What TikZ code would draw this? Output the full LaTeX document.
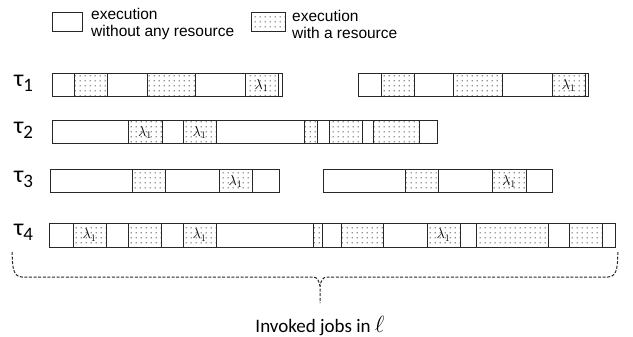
\documentclass[tikz,border=0pt]{standalone}
\usepackage{fontspec}
\setmainfont{Carlito}
\newfontfamily\legendfont{Liberation Sans}
\usetikzlibrary{patterns, positioning}
\definecolor{edgegray}{RGB}{40, 40, 40}
\definecolor{dotgray}{RGB}{30, 30, 30}
\pgfdeclarepatternformonly{sdots}{\pgfpointorigin}{\pgfpoint{4.6pt}{4.6pt}}{\pgfpoint{4.6pt}{4.6pt}}%
  {\pgfpathcircle{\pgfpoint{2.3pt}{2.3pt}}{0.65pt}\pgfusepath{fill}}
\newcommand{\tsk}[1]{{\fontsize{24}{24}\selectfont τ}\raisebox{-5pt}{\fontsize{19}{19}\selectfont #1}}

\begin{document}
\begin{tikzpicture}[
    x=1pt, y=-1pt,
    free/.style={rectangle, draw=edgegray, line width=1pt, inner sep=0pt,
                 minimum height=23pt, node contents={}},
    res/.style={free, pattern=sdots, pattern color=dotgray},
    lam/.style={res, font=\fontsize{14}{14}\selectfont, node contents={$\lambda_1$}},
    task/.style={anchor=west, inner sep=0pt},
    legend/.style={anchor=west, align=left, inner sep=0pt,
                   font=\legendfont\fontsize{15.5}{17}\selectfont},
    brace/.style={dashed, dash pattern=on 3pt off 1.6pt, line width=1pt, edgegray}
]
    \useasboundingbox (0,0) rectangle (633,337);

    % legend
    \node (keyfree) at (67,22.5) [free, minimum width=30pt, minimum height=19pt];
    \node[legend] (keyfreetxt) at (91,24) {execution\\without any resource};
    \node (keyres) at (268,22.5) [res, minimum width=34pt, minimum height=19pt];
    \node[legend] (keyrestxt) at (292,24) {execution\\with a resource};

    % task labels
    \node[task] (t1) at (14,83) {\tsk{1}};
    \node[task] (t2) at (14,130) {\tsk{2}};
    \node[task] (t3) at (14,179) {\tsk{3}};
    \node[task] (t4) at (14,232) {\tsk{4}};

    % tau 1
    \foreach \a/\b/\k [count=\i] in {52/74/free, 74/107/res, 107/147/free, 147/195/res,
        195/245/free, 245/278/lam, 278/282/free}
        \node (ra\i) at ({(\a+\b)/2},85.5) [\k, minimum width=\b-\a];
    \foreach \a/\b/\k [count=\i] in {358/381/free, 381/414/res, 414/453/free, 453/502/res,
        502/552/free, 552/585/lam, 585/588/free}
        \node (rb\i) at ({(\a+\b)/2},85.5) [\k, minimum width=\b-\a];

    % tau 2
    \foreach \a/\b/\k [count=\i] in {52/128/free, 128/162/lam, 162/183/free, 183/216/lam,
        216/304/free, 304/317/res, 317/329/free, 329/362/res, 362/373/free,
        373/419/res, 419/437/free}
        \node (sa\i) at ({(\a+\b)/2},132.5) [\k, minimum width=\b-\a];

    % tau 3
    \foreach \a/\b/\k [count=\i] in {50/132/free, 132/165/res, 165/219/free, 219/252/lam,
        252/279/free}
        \node (ta\i) at ({(\a+\b)/2},181.5) [\k, minimum width=\b-\a];
    \foreach \a/\b/\k [count=\i] in {323/405/free, 405/438/res, 438/492/free, 492/526/lam,
        526/552/free}
        \node (tb\i) at ({(\a+\b)/2},181.5) [\k, minimum width=\b-\a];

    % tau 4
    \foreach \a/\b/\k [count=\i] in {49/73/free, 73/106/lam, 106/128/free, 128/161/res,
        161/183/free, 183/216/lam, 216/313/free, 313/322/res, 322/341/free,
        341/383/res, 383/427/free, 427/460/lam, 460/476/free, 476/548/res,
        548/569/free, 569/602/res, 602/615/free}
        \node (ua\i) at ({(\a+\b)/2},235) [\k, minimum width=\b-\a, minimum height=24pt];

    % brace over the invoked jobs
    \coordinate (bl) at (12,252);
    \coordinate (br) at (618,252);
    \coordinate (tip) at (320,303);
    \node (jobs) at (320,326) {\fontsize{19}{19}\selectfont Invoked jobs in \scalebox{1.35}{$\ell$}};
    \draw[brace] (bl) to[out=-86, in=180] (22,277) -- (313,277)
        to[out=0, in=100] (tip |- 0,286) -- (tip);
    \draw[brace] (br) to[out=-94, in=0] (608,277) -- (327,277)
        to[out=180, in=80] (tip |- 0,286);
\end{tikzpicture}
\end{document}
